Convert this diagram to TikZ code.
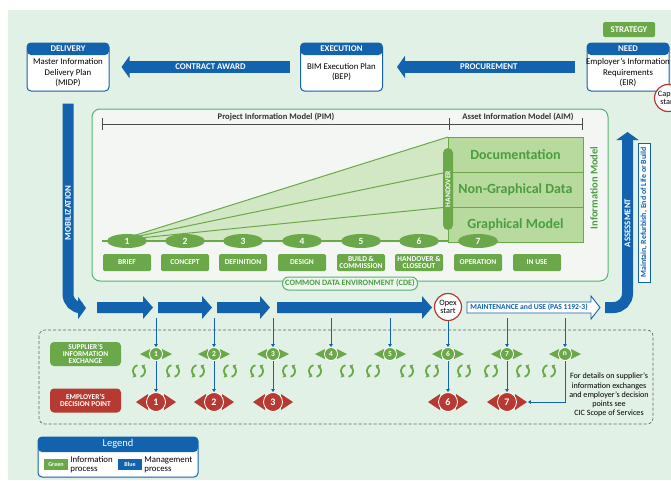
\documentclass[tikz,border=0pt]{standalone}
\usepackage{fontspec}
\setmainfont{Carlito}
\usetikzlibrary{arrows.meta,shapes.geometric,positioning}

\definecolor{bimblue}{HTML}{1262AE}
\definecolor{bimgreen}{HTML}{6AA84A}
\definecolor{bimtext}{HTML}{4A9E3E}
\definecolor{bimred}{HTML}{B63A31}
\definecolor{bimbg}{HTML}{E1F1E5}
\definecolor{cdeline}{HTML}{56B270}
\definecolor{cdefill}{HTML}{F4F6F4}
\definecolor{wedgefill}{HTML}{D2E7C4}
\definecolor{modelfill}{HTML}{B8DA9F}

\begin{document}
\begin{tikzpicture}[x=1pt,y=-1pt,
  stagebox/.style={draw=bimblue, line width=1pt, fill=white, rounded corners=4pt,
    minimum width=82pt, minimum height=48pt, inner sep=0pt,
    path picture={\fill[bimblue] (path picture bounding box.north west)
      rectangle ([yshift=-12pt]path picture bounding box.north east);}},
  headtext/.style={text=white, font=\bfseries\fontsize{8.8}{9}\selectfont, inner sep=0pt},
  bodytext/.style={align=center, font=\fontsize{8.8}{10.5}\selectfont, inner sep=0pt},
  bigarrow/.style={draw=bimblue, line width=12pt, -{Triangle[width=22pt,length=8pt]}},
  arrowtext/.style={text=white, font=\bfseries\fontsize{8.8}{9}\selectfont, inner sep=0pt},
  phase/.style={ellipse, fill=bimgreen, minimum width=40pt, minimum height=14pt, inner sep=0pt,
    text=white, font=\bfseries\fontsize{9.5}{9.5}\selectfont},
  phaselabel/.style={fill=bimgreen, rounded corners=1.5pt, minimum width=48pt, minimum height=17pt,
    inner sep=1pt, align=center, text=white, font=\bfseries\fontsize{7.5}{7.3}\selectfont},
  modelbox/.style={draw=bimgreen, line width=0.8pt, fill=modelfill, minimum width=135pt,
    minimum height=35pt, outer sep=0pt, text=bimtext, font=\bfseries\fontsize{14}{14}\selectfont},
  sidebox/.style={rounded corners=4pt, minimum width=71pt, minimum height=24pt, inner sep=0pt,
    align=center, text=white, font=\bfseries\fontsize{7.4}{7.3}\selectfont},
  exnode/.style={circle, fill=bimgreen, draw=white, line width=0.8pt, minimum size=13pt, inner sep=0pt,
    text=white, font=\bfseries\fontsize{7.5}{7.5}\selectfont},
  dpnode/.style={circle, fill=bimred, draw=white, line width=0.8pt, minimum size=19pt, inner sep=0pt,
    text=white, font=\bfseries\fontsize{10}{10}\selectfont},
  startnode/.style={circle, draw=bimred, line width=1.2pt, fill=white, minimum size=27pt, inner sep=0pt,
    align=center, font=\fontsize{8.2}{8.5}\selectfont},
  link/.style={draw=bimblue, line width=0.8pt, -{Triangle[length=3pt,width=3.5pt]}},
  cycarrow/.style={draw=bimgreen, line width=1.8pt, -{Triangle[length=3pt,width=5pt]}}
]

  \useasboundingbox (0,0) rectangle (671,480);
  \fill[bimbg] (8,10) rectangle (671,480);

  % top row
  \node[stagebox] (deliv) at (68,67) {};
  \node[headtext] at ([yshift=-6pt]deliv.north) {DELIVERY};
  \node[bodytext] at ([yshift=-6pt]deliv.center) {Master Information\\Delivery Plan\\(MIDP)};

  \node[stagebox] (exec) at (341.5,67) {};
  \node[headtext] at ([yshift=-6pt]exec.north) {EXECUTION};
  \node[bodytext] at ([yshift=-5pt]exec.center) {BIM Execution Plan\\(BEP)};

  \node[stagebox] (need) at (628,67) {};
  \node[headtext] at ([yshift=-6pt]need.north) {NEED};
  \node[bodytext] at ([yshift=-6pt]need.center) {Employer’s Information\\Requirements\\(EIR)};

  \node[fill=bimgreen, rounded corners=1.5pt, minimum width=52pt, minimum height=15pt, inner sep=0pt,
    text=white, font=\bfseries\fontsize{8.8}{9}\selectfont] (strat) at (629,29.5) {STRATEGY};

  \node[startnode] (capex) at (668,98) {Capex\\start};

  \draw[bigarrow, shorten <=10pt, shorten >=12pt] (exec) -- node[arrowtext, pos=0.47] {CONTRACT AWARD} (deliv);
  \draw[bigarrow, shorten <=12pt, shorten >=14pt] (need) -- node[arrowtext, pos=0.48] {PROCUREMENT} (exec);

  % common data environment
  \node[draw=cdeline, line width=1pt, fill=cdefill, rounded corners=8pt, minimum width=516pt,
    minimum height=172pt] (cde) at (350,195) {};

  \draw[gray!60!black, line width=0.8pt] (102,118) -- (102,130) (102,124) -- (582,124)
    (449,118) -- (449,130) (582,118) -- (582,130);
  \node[font=\bfseries\fontsize{8.6}{9}\selectfont, text=black!80] (pim) at (276,117) {Project Information Model (PIM)};
  \node[font=\bfseries\fontsize{8.6}{9}\selectfont, text=black!80] (aim) at (518,117) {Asset Information Model (AIM)};

  \coordinate (o) at (120,240);
  \fill[wedgefill] (o) -- (448,137) -- (448,242) -- (102,242) -- cycle;
  \draw[bimgreen, line width=1pt] (o) -- (448,137) (o) -- (448,172) (o) -- (448,207);

  \node[modelbox] (doc) at (515.5,154.5) {Documentation};
  \node[modelbox, below=0pt of doc] (ngd) {Non-Graphical Data};
  \node[modelbox, below=0pt of ngd] (gm) {Graphical Model};

  \node[fill=bimgreen, rounded corners=5pt, rotate=90, minimum width=82pt, minimum height=10pt, inner sep=0pt,
    text=white, font=\bfseries\fontsize{7.5}{7.5}\selectfont] (hand) at (448,189) {HANDOVER};

  \node[rotate=90, text=bimtext, font=\bfseries\fontsize{10.5}{10.5}\selectfont] (infmod) at (594,188) {Information Model};

  \draw[bimgreen, line width=1.2pt] (102,241) -- (448,241);
  \foreach \x [count=\i] in {127,185,243,302,361,419,478}
    \node[phase] (p\i) at (\x,241) {\i};

  \foreach \x/\t [count=\i] in {127/BRIEF, 185/CONCEPT, 243/DEFINITION, 302/DESIGN,
      361/{BUILD \&\\COMMISSION}, 419/{HANDOVER \&\\CLOSEOUT}, 478/OPERATION, 537/IN USE}
    \node[phaselabel] (s\i) at (\x,262.5) {\t};

  \node[draw=cdeline, line width=1pt, fill=bimbg!60!white, rounded corners=6pt, minimum width=135pt,
    minimum height=13pt, inner sep=0pt, text=bimtext, font=\bfseries\fontsize{8.2}{8}\selectfont]
    (cdelabel) at ([yshift=-2pt]cde.south) {COMMON DATA ENVIRONMENT (CDE)};

  % blue process arrows
  \coordinate (mobend) at (86,308);
  \draw[bigarrow, line width=11pt, rounded corners=14pt] ([yshift=-12pt]deliv.south) |- (mobend);
  \node[arrowtext, rotate=90] (mobtxt) at (68,213) {MOBILIZATION};

  \foreach \a/\b in {97/153,158/212,217/270,277/432}
    \fill[bimblue] (\a,302) -- (\b-10,302) -- (\b-10,296) -- (\b,307.5) -- (\b-10,319) -- (\b-10,313) -- (\a,313) -- cycle;

  \node[startnode] (opex) at (448,307) {Opex\\start};

  \draw[bimblue, line width=0.9pt, fill=white] (467,302) -- (591,302) -- (591,296) -- (600,307.5)
    -- (591,319) -- (591,313) -- (467,313) -- cycle;
  \node[text=bimblue, font=\bfseries\fontsize{7.6}{8}\selectfont] (maint) at (529,307.5) {MAINTENANCE and USE (PAS 1192-3)};

  \coordinate (asstart) at (605,307.5);
  \coordinate (asend) at (627.5,132);
  \draw[bigarrow, line width=11pt, rounded corners=14pt] (asstart) -| (asend);
  \node[arrowtext, rotate=90] (asstxt) at (627.5,223) {ASSESSMENT};
  \node[draw=bimblue, line width=0.8pt, fill=white, rotate=90, minimum width=139pt, minimum height=12pt,
    inner sep=0pt, text=bimblue, font=\bfseries\fontsize{7.9}{7.9}\selectfont] (mrel) at (644,212.5)
    {Maintain, Refurbish, End of Life or Build};

  % exchanges and decision points
  \draw[dashed, dash pattern=on 3pt off 2pt, gray!80!black, line width=0.7pt, rounded corners=6pt] (39,330) rectangle (653,424);

  \node[sidebox, fill=bimgreen] (sie) at (85.5,354) {SUPPLIER’S\\INFORMATION\\EXCHANGE};
  \node[sidebox, fill=bimred] (edp) at (85.5,400.5) {EMPLOYER’S\\DECISION POINT};

  \foreach \x/\l [count=\i] in {156/1,214/2,273/3,331/4,390/5,448/6,507/7,565/n} {
    \fill[bimgreen] (\x-6,349) -- (\x-16,354) -- (\x-6,359) -- cycle;
    \fill[bimgreen] (\x+6,349) -- (\x+16,354) -- (\x+6,359) -- cycle;
    \node[exnode] (sx\i) at (\x,354) {\l};
  }

  \foreach \x/\l in {156/1,214/2,273/3,448/6,507/7} {
    \fill[bimred] (\x-8,394) -- (\x-20,402) -- (\x-8,410) -- cycle;
    \fill[bimred] (\x+8,394) -- (\x+20,402) -- (\x+8,410) -- cycle;
    \node[dpnode] (ed\l) at (\x,402) {\l};
  }

  \foreach \x in {139,173,198,230,257,289,315,347,373,407,432,464,491,523,549} {
    \draw[cycarrow] (\x,371) ++(105:6pt) arc[start angle=105, end angle=245, radius=6pt];
    \draw[cycarrow] (\x,371) ++(-75:6pt) arc[start angle=-75, end angle=65, radius=6pt];
  }

  \foreach \x/\i in {156/1,214/2,273/3,331/4,390/5,507/7,565/8}
    \coordinate (f\i) at (\x,318);
  \foreach \i in {1,2,3,4,5,7,8}
    \draw[link] (f\i) -- (sx\i);
  \draw[link] (opex) -- (sx6);
  \foreach \i in {1,2,3,6,7}
    \draw[link] (sx\i) -- (ed\i);
  \draw[link, shorten >=11pt] (sx8) |- (ed7);

  \node[align=center, font=\fontsize{8.1}{9.2}\selectfont] (note) at (609,395)
    {For details on supplier’s\\information exchanges\\and employer’s decision\\points see\\CIC Scope of Services};

  % legend
  \node[stagebox, minimum width=160pt, minimum height=40pt,
    path picture={\fill[bimblue] (path picture bounding box.north west)
      rectangle ([yshift=-15pt]path picture bounding box.north east);}] (legend) at (118,457) {};
  \node[text=white, font=\fontsize{10.5}{10.5}\selectfont, inner sep=0pt] at ([yshift=-7.5pt]legend.north) {Legend};
  \node[fill=bimgreen, minimum width=24pt, minimum height=11pt, inner sep=0pt, text=white,
    font=\bfseries\fontsize{6}{6}\selectfont] (lgreen) at (56,464.5) {Green};
  \node[right=2pt of lgreen, align=left, inner sep=0pt, font=\fontsize{8.8}{9}\selectfont] {Information\\process};
  \node[fill=bimblue, minimum width=24pt, minimum height=11pt, inner sep=0pt, text=white,
    font=\bfseries\fontsize{6}{6}\selectfont] (lblue) at (130,464.5) {Blue};
  \node[right=2pt of lblue, align=left, inner sep=0pt, font=\fontsize{8.8}{9}\selectfont] {Management\\process};

\end{tikzpicture}
\end{document}
